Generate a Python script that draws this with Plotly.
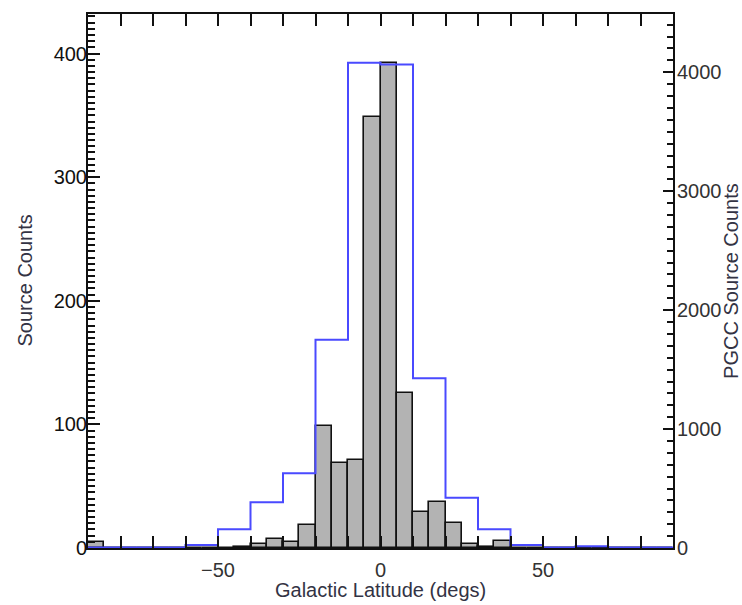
import plotly.graph_objects as go

# Histogram of source counts (5-degree bins, left axis)
bar_left_edges = list(range(-90, 90, 5))
source_counts = [5, 0, 0, 0, 0, 0, 0, 0,
                 0, 1, 3, 7, 5, 19, 99, 69, 71, 349, 392, 125, 29, 37, 20, 3, 1, 6,
                 0, 0, 0, 0, 0, 0, 0, 0, 0, 0]

# PGCC source counts (10-degree bins, right axis)
pgcc_left_edges = list(range(-90, 90, 10))
pgcc_counts = [5, 5, 5, 25, 157, 385, 629, 1751, 4080, 4066, 1428, 423, 157, 25, 5, 15, 5, 5]

x_ticks = [-50, 0, 50]
x_minor_ticks = list(range(-80, 90, 10))

bar_w = 5
bar_centers = [e + bar_w / 2 for e in bar_left_edges]
step_x = pgcc_left_edges + [pgcc_left_edges[-1] + 10]
step_y = pgcc_counts + [pgcc_counts[-1]]

FONT = "Liberation Sans, Arial, sans-serif"
AX = "#111111"

fig = go.Figure()
fig.add_trace(go.Bar(
    x=bar_centers, y=source_counts, width=bar_w,
    marker=dict(color="#b3b3b3", line=dict(color="#111111", width=1.6)),
    yaxis="y", showlegend=False,
))
fig.add_trace(go.Scatter(
    x=step_x, y=step_y, mode="lines", line=dict(color="#4a4aff", width=2, shape="hv"),
    yaxis="y2", showlegend=False,
))

fig.update_layout(
    width=742, height=605,
    margin=dict(l=88, r=69, t=14, b=57),
    paper_bgcolor="white", plot_bgcolor="white",
    font=dict(family=FONT, size=20, color="#333333"),
    bargap=0,
    xaxis=dict(
        range=[-90, 90], tickvals=x_ticks, ticks="inside", ticklen=12, tickwidth=2,
        tickcolor=AX, showline=True, linecolor=AX, linewidth=2, mirror="allticks",
        showgrid=False, zeroline=False, ticklabelstandoff=3,
        minor=dict(tickvals=x_minor_ticks, ticks="inside", ticklen=6,
                   tickcolor=AX, tickwidth=1.5),
        tickfont=dict(color="#333333", size=20),
    ),
    yaxis=dict(
        range=[0, 432], dtick=100, ticks="inside", ticklen=12, tickwidth=2,
        tickcolor=AX, showline=True, linecolor=AX, linewidth=2,
        showgrid=False, zeroline=False, ticklabelstandoff=-5,
        minor=dict(dtick=5, ticks="inside", ticklen=7, tickcolor=AX, tickwidth=1.5),
        tickfont=dict(color="#111111", size=20),
    ),
    yaxis2=dict(
        range=[0, 4490], dtick=1000, overlaying="y", side="right", ticks="inside",
        ticklen=10, tickwidth=2, tickcolor=AX, showline=True, linecolor=AX, linewidth=2,
        showgrid=False, zeroline=False, ticklabelstandoff=-2,
        minor=dict(dtick=100, ticks="inside", ticklen=6, tickcolor=AX, tickwidth=1.5),
        tickfont=dict(color="#333333", size=20),
    ),
    annotations=[
        dict(text="Galactic Latitude (degs)", xref="paper", yref="paper", x=0.5, y=-0.0787,
             xanchor="center", yanchor="middle", showarrow=False,
             font=dict(size=20, color="#333344")),
        dict(text="Source Counts", xref="paper", yref="paper", x=-0.1085, y=0.5,
             xanchor="center", yanchor="middle", textangle=-90, showarrow=False,
             font=dict(size=20, color="#333344")),
        dict(text="PGCC Source Counts", xref="paper", yref="paper", x=1.099, y=0.5,
             xanchor="center", yanchor="middle", textangle=-90, showarrow=False,
             font=dict(size=20, color="#333344")),
    ],
)

fig.write_html("out.html")
